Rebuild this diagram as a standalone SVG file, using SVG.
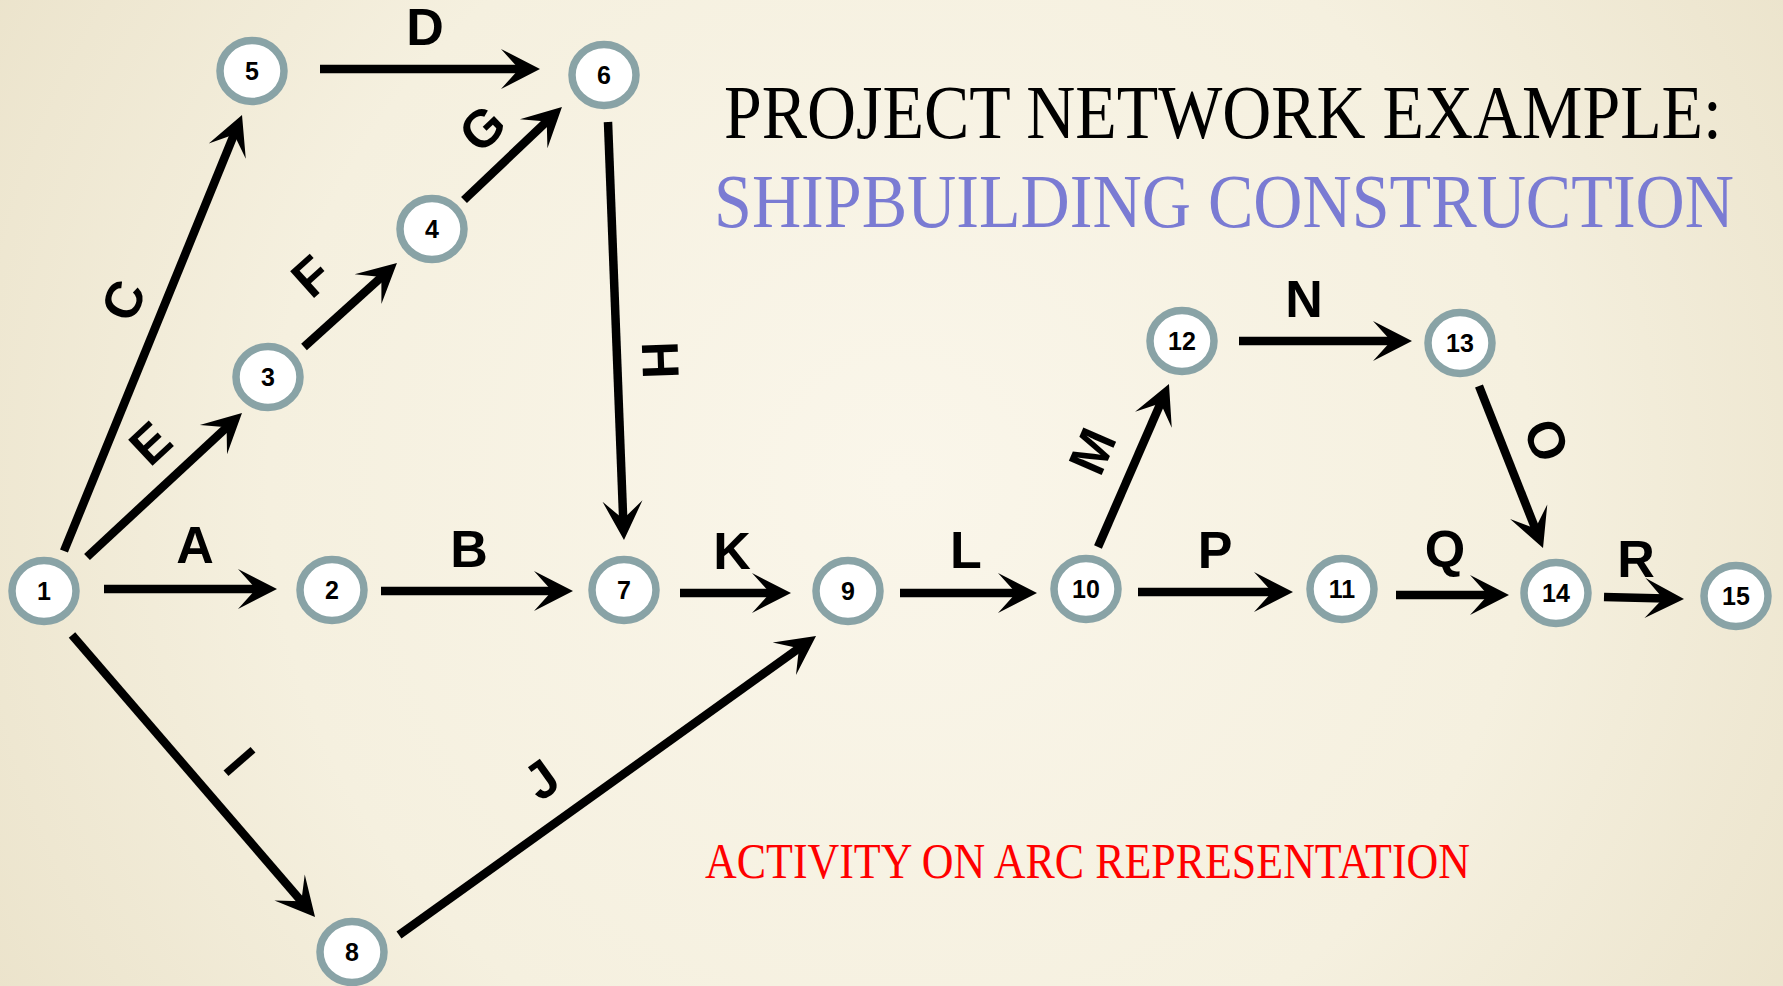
<svg xmlns="http://www.w3.org/2000/svg" width="1783" height="986" viewBox="0 0 1783 986">
  <defs>
    <radialGradient id="paper" cx="900" cy="480" r="1050" gradientUnits="userSpaceOnUse">
      <stop offset="0" stop-color="#faf6ea"/>
      <stop offset="0.6" stop-color="#f5f0df"/>
      <stop offset="1" stop-color="#ebe3cb"/>
    </radialGradient>
    <marker id="head" markerUnits="userSpaceOnUse" viewBox="-22 -21 42 42" markerWidth="42" markerHeight="42" refX="0" refY="0" orient="auto" overflow="visible">
      <path d="M18,0 L-21,-20 L-3,0 L-21,20 Z" fill="#000"/>
    </marker>
    <style>
      .arc { stroke: #000; stroke-width: 8.5; fill: none; marker-end: url(#head); }
      .act { font-family: "Liberation Sans", Arial, sans-serif; font-weight: bold; font-size: 52px; fill: #000; text-anchor: middle; }
      .node ellipse { fill: #fff; stroke: #89a3a6; stroke-width: 7.5; }
      .node text { font-family: "Liberation Sans", Arial, sans-serif; font-weight: bold; font-size: 25px; fill: #000; text-anchor: middle; }
      .title { font-family: "Liberation Serif", "Times New Roman", serif; }
    </style>
  </defs>

  <rect x="0" y="0" width="1783" height="986" fill="url(#paper)"/>

  <!-- headings (condensed serif) -->
  <g transform="translate(724,138) scale(0.85,1)">
    <text class="title" x="0" y="0" font-size="76" fill="#000" textLength="1174" lengthAdjust="spacingAndGlyphs">PROJECT NETWORK EXAMPLE:</text>
  </g>
  <g transform="translate(714,227) scale(0.85,1)">
    <text class="title" x="0" y="0" font-size="76" fill="#7a7bd3" textLength="1200" lengthAdjust="spacingAndGlyphs">SHIPBUILDING CONSTRUCTION</text>
  </g>
  <text class="title" x="705" y="878" font-size="50" fill="#ff0000" textLength="765" lengthAdjust="spacingAndGlyphs">ACTIVITY ON ARC REPRESENTATION</text>

  <!-- activities (arcs) -->
  <g id="connectors">
    <g id="arc-A"><line class="arc" x1="104" y1="589" x2="259" y2="589"/><text class="act" x="195" y="563">A</text></g>
    <g id="arc-B"><line class="arc" x1="381" y1="591" x2="555" y2="591"/><text class="act" x="469" y="567">B</text></g>
    <g id="arc-C"><line class="arc" x1="64" y1="551" x2="235.2" y2="131.7"/><text class="act" transform="translate(123,300) rotate(-67.8)" y="18.5">C</text></g>
    <g id="arc-D"><line class="arc" x1="320" y1="69" x2="522" y2="69"/><text class="act" x="425" y="45">D</text></g>
    <g id="arc-E"><line class="arc" x1="87" y1="557" x2="228.8" y2="425.3"/><text class="act" transform="translate(150,443) rotate(-43)" y="18.5">E</text></g>
    <g id="arc-F"><line class="arc" x1="304" y1="347" x2="383.6" y2="275.1"/><text class="act" transform="translate(311,276) rotate(-42)" y="18.5">F</text></g>
    <g id="arc-G"><line class="arc" x1="464" y1="200" x2="548.9" y2="119.4"/><text class="act" transform="translate(482,128) rotate(-43.5)" y="18.5">G</text></g>
    <g id="arc-H"><line class="arc" x1="608" y1="122" x2="623.3" y2="522"/><text class="act" transform="translate(661,360) rotate(88)" y="18.5">H</text></g>
    <g id="arc-I"><line class="arc" x1="72" y1="635" x2="303.3" y2="903.4"/><text class="act" transform="translate(240,761) rotate(49)" y="18.5">I</text></g>
    <g id="arc-J"><line class="arc" x1="399" y1="935" x2="801.4" y2="646.5"/><text class="act" transform="translate(541,779) rotate(-35.6)" y="18.5">J</text></g>
    <g id="arc-K"><line class="arc" x1="680" y1="593" x2="773" y2="593"/><text class="act" x="732" y="569">K</text></g>
    <g id="arc-L"><line class="arc" x1="900" y1="593" x2="1019" y2="593"/><text class="act" x="966" y="568">L</text></g>
    <g id="arc-M"><line class="arc" x1="1098" y1="547" x2="1161.8" y2="400.5"/><text class="act" transform="translate(1092,451) rotate(-66.5)" y="18.5">M</text></g>
    <g id="arc-N"><line class="arc" x1="1239" y1="341" x2="1394" y2="341"/><text class="act" x="1304" y="317">N</text></g>
    <g id="arc-O"><line class="arc" x1="1479" y1="386" x2="1536.4" y2="531.3"/><text class="act" transform="translate(1547,440) rotate(68)" y="18.5">O</text></g>
    <g id="arc-P"><line class="arc" x1="1138" y1="592" x2="1275" y2="592"/><text class="act" x="1215" y="568">P</text></g>
    <g id="arc-Q"><line class="arc" x1="1396" y1="595" x2="1491" y2="595"/><text class="act" x="1445" y="567">Q</text></g>
    <g id="arc-R"><line class="arc" x1="1604" y1="597" x2="1666" y2="598.5"/><text class="act" x="1636" y="577">R</text></g>
  </g>

  <!-- events (nodes) -->
  <g id="node-1" class="node"><ellipse cx="44" cy="591" rx="32" ry="30.5"/><text x="44" y="600">1</text></g>
  <g id="node-2" class="node"><ellipse cx="332" cy="590" rx="32" ry="30.5"/><text x="332" y="599">2</text></g>
  <g id="node-3" class="node"><ellipse cx="268" cy="377" rx="32" ry="30.5"/><text x="268" y="386">3</text></g>
  <g id="node-4" class="node"><ellipse cx="432" cy="229" rx="32" ry="30.5"/><text x="432" y="238">4</text></g>
  <g id="node-5" class="node"><ellipse cx="252" cy="71" rx="32" ry="30.5"/><text x="252" y="80">5</text></g>
  <g id="node-6" class="node"><ellipse cx="604" cy="75" rx="32" ry="30.5"/><text x="604" y="84">6</text></g>
  <g id="node-7" class="node"><ellipse cx="624" cy="590" rx="32" ry="30.5"/><text x="624" y="599">7</text></g>
  <g id="node-8" class="node"><ellipse cx="352" cy="952" rx="32" ry="30.5"/><text x="352" y="961">8</text></g>
  <g id="node-9" class="node"><ellipse cx="848" cy="591" rx="32" ry="30.5"/><text x="848" y="600">9</text></g>
  <g id="node-10" class="node"><ellipse cx="1086" cy="589" rx="32" ry="30.5"/><text x="1086" y="598">10</text></g>
  <g id="node-11" class="node"><ellipse cx="1342" cy="589" rx="32" ry="30.5"/><text x="1342" y="598">11</text></g>
  <g id="node-12" class="node"><ellipse cx="1182" cy="341" rx="32" ry="30.5"/><text x="1182" y="350">12</text></g>
  <g id="node-13" class="node"><ellipse cx="1460" cy="343" rx="32" ry="30.5"/><text x="1460" y="352">13</text></g>
  <g id="node-14" class="node"><ellipse cx="1556" cy="593" rx="32" ry="30.5"/><text x="1556" y="602">14</text></g>
  <g id="node-15" class="node"><ellipse cx="1736" cy="596" rx="32" ry="30.5"/><text x="1736" y="605">15</text></g>
</svg>
